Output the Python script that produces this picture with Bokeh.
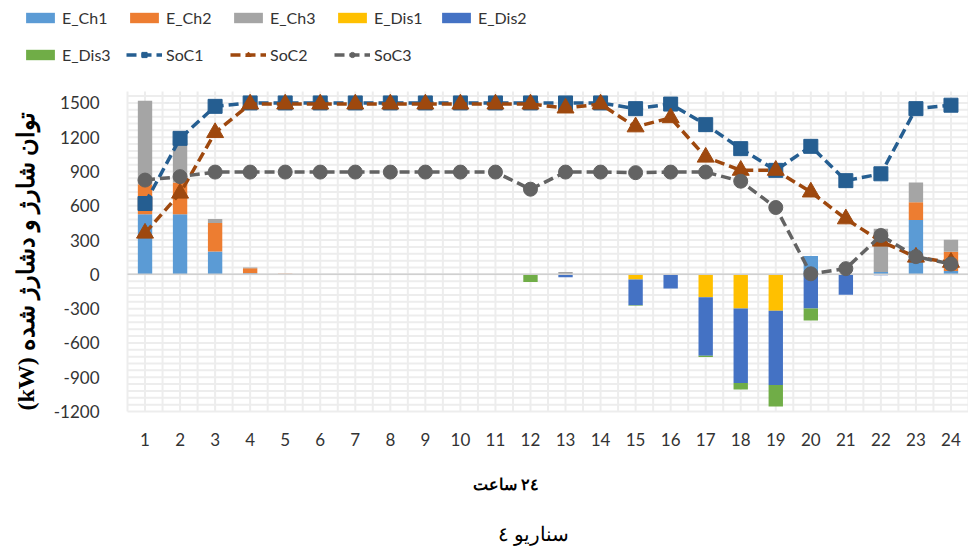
import math

from bokeh.core.properties import value
from bokeh.embed import file_html
from bokeh.models import ColumnDataSource, FixedTicker, Label, Legend, LegendItem, Title
from bokeh.plotting import figure
from bokeh.resources import INLINE

# Hourly storage schedule, scenario 4 (kW)
hours = list(range(1, 25))
hour_labels = [str(h) for h in hours]

# charging (positive)
e_ch1 = [525, 525, 200, 9, 0, 0, 0, 0, 0, 0, 0, 0, 0, 0, 0, 0, 0, 0, 0, 160, 0, 20, 475, 30]
e_ch2 = [263, 279, 249, 44, 5, 0, 0, 0, 0, 0, 0, 0, 0, 0, 0, 0, 0, 0, 0, 0, 0, 0, 155, 167]
e_ch3 = [730, 370, 35, 6, 0, 0, 0, 0, 0, 0, 0, 0, 20, 0, 0, 0, 0, 0, 0, 0, 0, 380, 173, 105]

# discharging (negative)
e_dis1 = [0, 0, 0, 0, 0, 0, 0, 0, 0, 0, 0, 0, 0, 0, -45, 0, -200, -298, -319, 0, 0, 0, 0, 0]
e_dis2 = [0, 0, 0, 0, 0, 0, 0, 0, 0, 0, 0, 0, -25, 0, -225, -123, -512, -652, -650, -298, -178, -8, 0, 0]
e_dis3 = [0, 0, 0, 0, 0, 0, 0, 0, 0, 0, 0, -67, 0, 0, -5, 0, -12, -58, -187, -105, 0, 0, 0, 0]

# state of charge of the three units
soc1 = [620, 1190, 1470, 1500, 1500, 1500, 1500, 1500, 1500, 1500, 1500, 1500, 1500, 1500,
        1450, 1490, 1310, 1100, 910, 1120, 820, 880, 1450, 1480]
soc2 = [360, 710, 1240, 1490, 1490, 1490, 1490, 1490, 1490, 1490, 1490, 1490, 1455, 1490,
        1290, 1370, 1025, 910, 910, 720, 485, 290, 150, 105]
soc3 = [825, 855, 895, 895, 895, 895, 895, 895, 895, 895, 895, 745, 895, 895,
        890, 895, 895, 815, 585, 5, 50, 340, 155, 90]

y_ticks = list(range(-1200, 1501, 300))
y_tick_labels = [str(v) for v in y_ticks]
y_min, y_max = -1200, 1600

src = ColumnDataSource(dict(
    hour=hours,
    E_Ch1=e_ch1, E_Ch2=e_ch2, E_Ch3=e_ch3,
    E_Dis1=e_dis1, E_Dis2=e_dis2, E_Dis3=e_dis3,
    SoC1=soc1, SoC2=soc2, SoC3=soc3,
))

LATIN = "Lato"
TEXT_COLOR = "#333333"
GRID_COLOR = "#EDEDED"

# Page geometry: the plotting frame spans the full width, reaches the top and
# extends a little below the gridded area, so the legend and the value labels
# live inside it; the gridded area occupies x 127..968 and y 91..411.
W, H = 968, 554
grid_left_px, grid_top_px, grid_bottom_px = 127, 91, 411
frame_bottom_px = 426
x_lo, x_hi = 0.5, 24.5
x_per_px = (x_hi - x_lo) / (W - grid_left_px)
y_per_px = (y_max - y_min) / (grid_bottom_px - grid_top_px)
x_start = x_lo - grid_left_px * x_per_px
y_top = y_max + grid_top_px * y_per_px
y_bottom = y_min - (frame_bottom_px - grid_bottom_px) * y_per_px

p = figure(
    width=W, height=H,
    x_range=(x_start, x_hi), y_range=(y_bottom, y_top),
    output_backend="svg", toolbar_location=None,
    min_border_left=0, min_border_right=0,
    min_border_top=0, min_border_bottom=H - frame_bottom_px,
)
p.outline_line_color = None
p.background_fill_color = "white"
p.border_fill_color = "white"
p.grid.visible = False
p.yaxis.visible = False

# light grid: every half hour and every 60 kW, bounded to the value area
gx = [h / 2 for h in range(1, 50)]
gy = list(range(y_min, y_max + 1, 60))
p.segment(x0=gx, y0=[y_min] * len(gx), x1=gx, y1=[y_max] * len(gx),
          line_color=GRID_COLOR, line_width=2)
p.segment(x0=[x_lo] * len(gy), y0=gy, x1=[x_hi] * len(gy), y1=gy,
          line_color=GRID_COLOR, line_width=2)

# category axis below
p.xaxis.ticker = FixedTicker(ticks=hours)
p.xaxis.major_label_overrides = {h: lab for h, lab in zip(hours, hour_labels)}
p.xaxis.axis_line_color = None
p.xaxis.major_tick_line_color = None
p.xaxis.minor_tick_line_color = None
p.xaxis.major_tick_out = 0
p.xaxis.major_tick_in = 0
p.xaxis.major_label_text_font = LATIN
p.xaxis.major_label_text_font_size = "17px"
p.xaxis.major_label_text_color = TEXT_COLOR
p.xaxis.major_label_standoff = 21 - (frame_bottom_px - grid_bottom_px)

# value labels at the left edge of the value area
ytick_src = ColumnDataSource(dict(x=[x_lo] * len(y_ticks), y=y_ticks, text=y_tick_labels))
p.text(x="x", y="y", text="text", source=ytick_src, x_offset=-28,
       text_align="right", text_baseline="middle",
       text_font=value(LATIN), text_font_size=value("17px"), text_color=TEXT_COLOR)

# stacked bars: charge above zero, discharge below
ch_colors = ["#5B9BD5", "#ED7D31", "#A5A5A5"]
dis_colors = ["#FFC000", "#4472C4", "#70AD47"]
bar_w = 0.41
ch_bars = p.vbar_stack(["E_Ch1", "E_Ch2", "E_Ch3"], x="hour", width=bar_w, source=src,
                       fill_color=ch_colors, line_color=None)
dis_bars = p.vbar_stack(["E_Dis1", "E_Dis2", "E_Dis3"], x="hour", width=bar_w, source=src,
                        fill_color=dis_colors, line_color=None)

# zero line
p.segment(x0=[x_lo], y0=[0], x1=[x_hi], y1=[0], line_color="#D0D0D0", line_width=1.5)

# state-of-charge lines
soc_style = [
    ("SoC1", "#255E91", "square", 14),
    ("SoC2", "#9E480E", "triangle", 17),
    ("SoC3", "#636363", "circle", 14),
]
soc_renderers = {}
for name, col, marker, size in soc_style:
    ln = p.line("hour", name, source=src, line_color=col, line_width=3.5, line_dash="10 5")
    mk = p.scatter("hour", name, source=src, marker=marker, size=size,
                   fill_color=col, line_color=col)
    soc_renderers[name] = [ln, mk]

legend_style = dict(
    orientation="horizontal", padding=0, margin=0, spacing=4,
    glyph_width=36, glyph_height=13, label_height=13, label_width=60,
    label_standoff=4, label_text_font=LATIN, label_text_font_size="16px",
    label_text_color=TEXT_COLOR, border_line_color=None, background_fill_alpha=0,
)
legend_y1 = frame_bottom_px - 27
legend_y2 = frame_bottom_px - 64
row1 = Legend(items=[
    LegendItem(label="E_Ch1", renderers=[ch_bars[0]]),
    LegendItem(label="E_Ch2", renderers=[ch_bars[1]]),
    LegendItem(label="E_Ch3", renderers=[ch_bars[2]]),
    LegendItem(label="E_Dis1", renderers=[dis_bars[0]]),
    LegendItem(label="E_Dis2", renderers=[dis_bars[1]]),
], location=(22, legend_y1), **legend_style)
row2 = Legend(items=[
    LegendItem(label="E_Dis3", renderers=[dis_bars[2]]),
    LegendItem(label="SoC1", renderers=soc_renderers["SoC1"]),
    LegendItem(label="SoC2", renderers=soc_renderers["SoC2"]),
    LegendItem(label="SoC3", renderers=soc_renderers["SoC3"]),
], location=(22, legend_y2), **legend_style)
p.add_layout(row1, "center")
p.add_layout(row2, "center")

# value-axis title, reading upwards from the bottom of the value area
p.add_layout(Label(x=25, y=frame_bottom_px - grid_bottom_px + 1,
                   x_units="screen", y_units="screen",
                   text="(kW) توان شارژ و دشارژ شده", angle=math.pi / 2,
                   text_align="left", text_baseline="middle",
                   text_font="Liberation Serif", text_font_style="bold",
                   text_font_size="24px", text_color="#000000"))

# hour-axis title and caption
p.add_layout(Title(text="٢٤ ساعت", align="left", offset=472,
                   text_font="Liberation Serif", text_font_style="bold",
                   text_font_size="16px", text_color="#000000", standoff=50), "below")
p.add_layout(Title(text="سناریو ٤", align="left", offset=497,
                   text_font="Liberation Serif", text_font_style="normal",
                   text_font_size="20px", text_color="#000000", standoff=7), "below")

open("out.html", "w").write(file_html(p, INLINE))
